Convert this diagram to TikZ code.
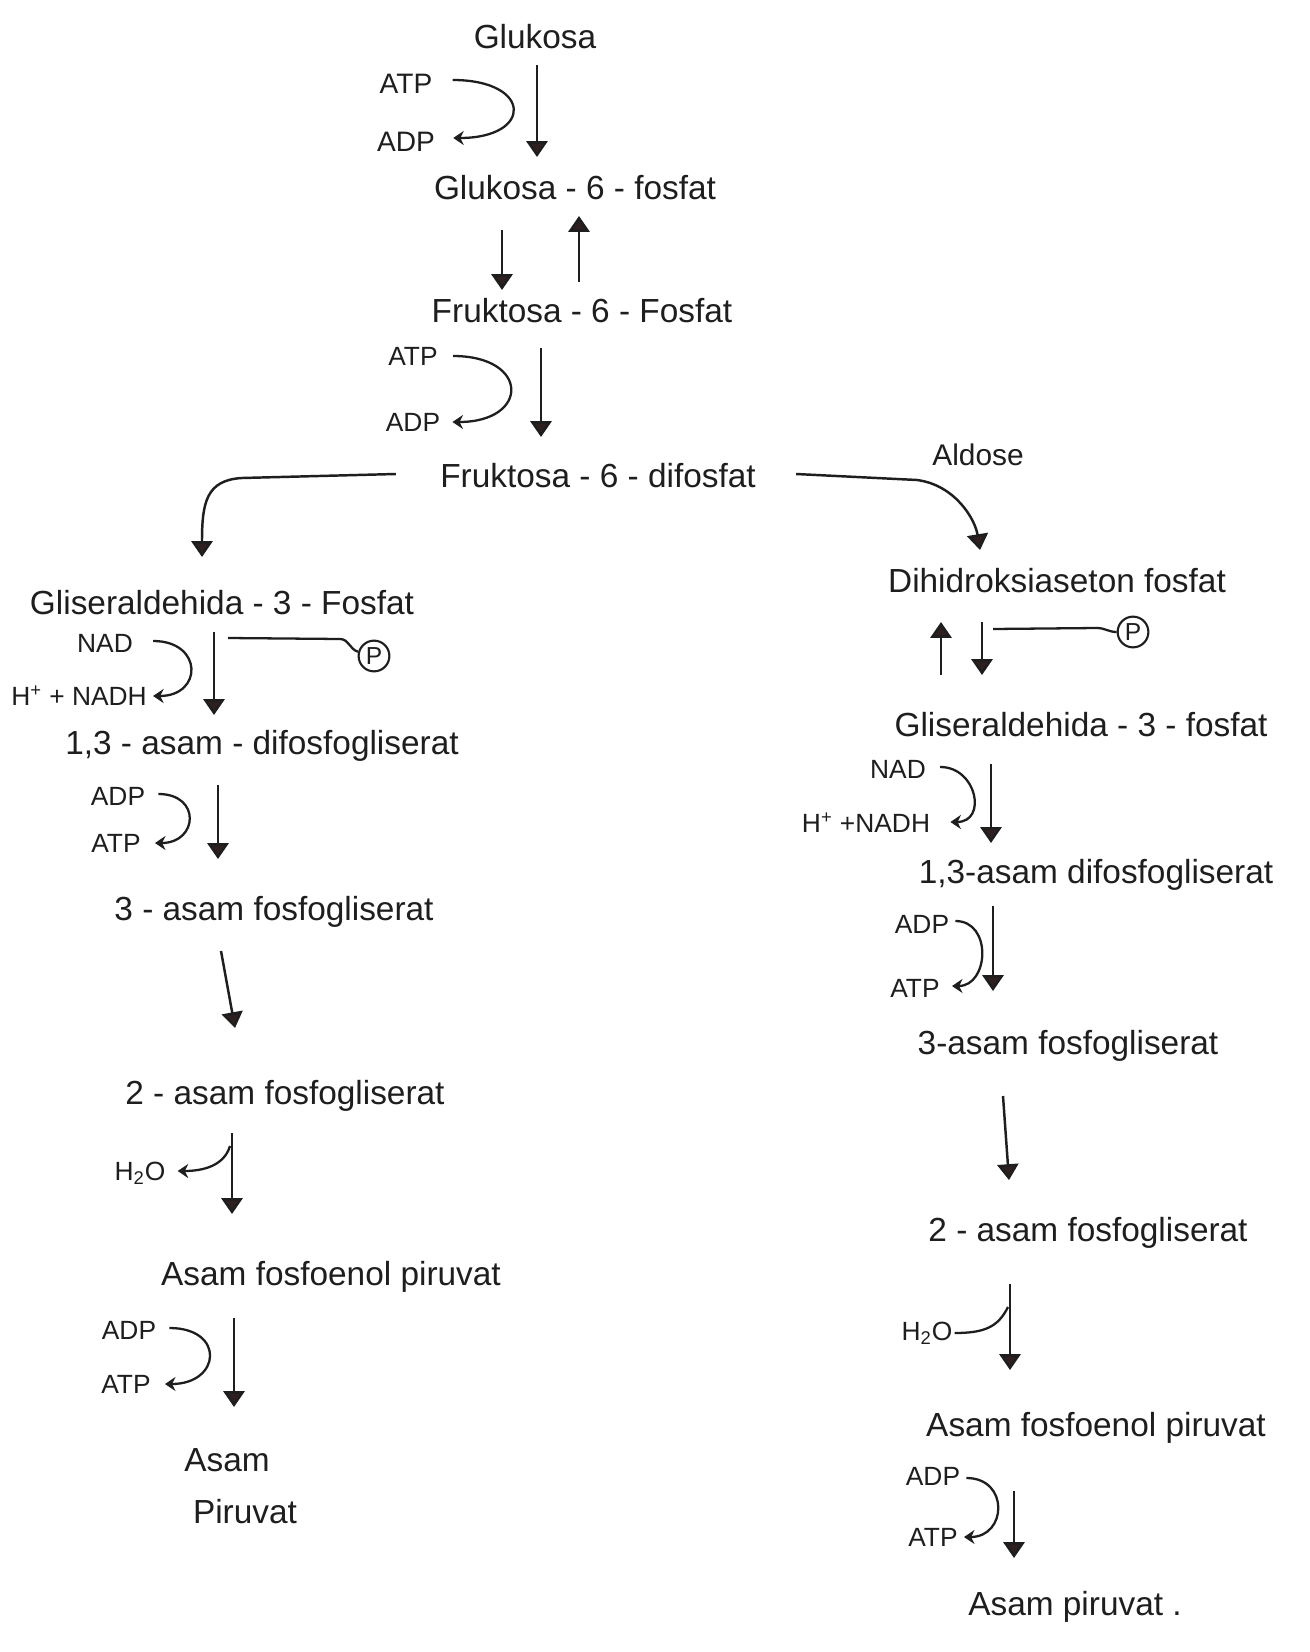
\documentclass[tikz,border=0pt]{standalone}
\usepackage{fontspec}
\setmainfont{Liberation Sans}
\usetikzlibrary{arrows.meta,calc}
\definecolor{ink}{HTML}{1E1E1E}
\definecolor{tipc}{HTML}{2E2020}
\begin{document}
\begin{tikzpicture}[x=0.02cm,y=-0.02cm,
  lbl/.style={inner sep=0pt, text=ink, font=\fontsize{19}{22}\selectfont},
  sml/.style={inner sep=0pt, text=ink, font=\fontsize{15}{18}\selectfont},
  arr/.style={draw=ink, line width=1.4pt, -{Triangle[width=12pt,length=9pt,fill=tipc]}},
  carr/.style={draw=ink, line width=1.3pt, -{Stealth[width=8pt,length=6pt]}},
  plain/.style={draw=ink, line width=1.3pt},
  pcirc/.style={circle, draw=ink, line width=1.2pt, inner sep=0pt, minimum size=17.5pt, text=ink, font=\fontsize{14}{16}\selectfont}]
\useasboundingbox[fill=white] (0,0) rectangle (1309,1652);

% ---------- top column ----------
\node[lbl] (glu) at (535,37) {Glukosa};
\node[sml,font=\fontsize{16}{18}\selectfont] (atp1) at (406,84) {ATP};
\node[sml,font=\fontsize{16}{18}\selectfont] (adp1) at (406,142) {ADP};
\node[lbl] (g6p) at (575,188) {Glukosa - 6 - fosfat};
\node[lbl] (f6p) at (582,311) {Fruktosa - 6 - Fosfat};
\node[sml] (atp2) at (413,356) {ATP};
\node[sml] (adp2) at (413,422) {ADP};
\node[lbl] (fbp) at (598,476) {Fruktosa - 6 - difosfat};
\node[sml,font=\fontsize{17}{20}\selectfont] (ald) at (978,455) {Aldose};

\draw[arr] ($(glu)+(2,28)$) -- ($(g6p)+(-38,-31)$);
\draw[carr] ($(atp1.east)+(20,-4)$) .. controls +(80,0) and +(80,0) .. ($(adp1.east)+(18,-4)$);
\draw[arr] ($(g6p)+(-73,42)$) -- ($(f6p)+(-80,-21)$);
\draw[arr] ($(f6p)+(-3,-29)$) -- ($(g6p)+(4,28)$);
\draw[arr] ($(f6p)+(-41,37)$) -- ($(fbp)+(-57,-39)$);
\draw[carr] ($(atp2.east)+(15,0)$) .. controls +(77,0) and +(77,0) .. ($(adp2.east)+(12,0)$);

% ---------- left column ----------
\node[lbl] (ga3l) at (222,603) {Gliseraldehida - 3 - Fosfat};
\node[sml] (nad1) at (105,643) {NAD};
\node[sml] (nadh1) at (79,696) {H\textsuperscript{+} + NADH};
\node[pcirc] (p1) at (374,656) {P};
\node[lbl] (bpg1) at (262,746) {1,3 - asam - difosfogliserat};
\node[sml] (adp1l) at (118,796) {ADP};
\node[sml] (atp1l) at (116,843) {ATP};
\node[lbl] (pg3l) at (274,912) {3 - asam fosfogliserat};
\node[lbl] (pg2l) at (285,1096) {2 - asam fosfogliserat};
\node[sml] (h2o1) at (140,1173) {H\textsubscript{2}O};
\node[lbl] (pepl) at (331,1277) {Asam fosfoenol piruvat};
\node[sml] (adp3l) at (129,1330) {ADP};
\node[sml] (atp3l) at (126,1384) {ATP};
\node[lbl] (pyra) at (227,1460) {Asam};
\node[lbl] (pyrb) at (245,1512) {Piruvat};

\draw[arr] ($(fbp.west)+(-44,-2)$) -- ($(ga3l)+(20,-125)$) .. controls ($(ga3l)+(-16,-123)$) and ($(ga3l)+(-20,-100)$) .. ($(ga3l)+(-20,-46)$);
\draw[arr] ($(ga3l)+(-8,29)$) -- ($(bpg1)+(-48,-31)$);
\draw[carr] ($(nad1.east)+(20,-2)$) .. controls +(50,0) and +(50,0) .. ($(nadh1.east)+(6,0)$);
\draw[plain] ($(ga3l)+(6,35)$) -- ($(ga3l)+(118,36)$) to[out=0,in=165] (p1.165);
\draw[arr] ($(bpg1)+(-44,39)$) -- ($(pg3l)+(-56,-53)$);
\draw[carr] ($(adp1l.east)+(13,-2)$) .. controls +(43,0) and +(43,0) .. ($(atp1l.east)+(14,0)$);
\draw[arr] ($(pg3l)+(-53,39)$) -- ($(pg2l)+(-50,-68)$);
\draw[arr] ($(pg2l)+(-53,37)$) -- ($(pepl)+(-99,-63)$);
\draw[carr] ($(pg2l)+(-55,50)$) .. controls +(-6,20) and +(25,0) .. ($(h2o1.east)+(12,-2)$);
\draw[arr] ($(pepl)+(-97,41)$) -- ($(pyra)+(7,-53)$);
\draw[carr] ($(adp3l.east)+(13,-2)$) .. controls +(56,0) and +(56,0) .. ($(atp3l.east)+(14,0)$);

% ---------- right column ----------
\node[lbl] (dhap) at (1057,581) {Dihidroksiaseton fosfat};
\node[pcirc] (p2) at (1133,632) {P};
\node[lbl] (ga3r) at (1081,725) {Gliseraldehida - 3 - fosfat};
\node[sml] (nad2) at (898,769) {NAD};
\node[sml] (nadh2) at (866,823) {H\textsuperscript{+} +NADH};
\node[lbl] (bpg2) at (1096,875) {1,3-asam difosfogliserat};
\node[sml] (adp2r) at (922,924) {ADP};
\node[sml] (atp2r) at (915,988) {ATP};
\node[lbl] (pg3r) at (1068,1046) {3-asam fosfogliserat};
\node[lbl] (pg2r) at (1088,1233) {2 - asam fosfogliserat};
\node[sml] (h2o2) at (927,1333) {H\textsubscript{2}O};
\node[lbl] (pepr) at (1096,1428) {Asam fosfoenol piruvat};
\node[sml] (adp3r) at (933,1476) {ADP};
\node[sml] (atp3r) at (933,1537) {ATP};
\node[lbl] (pyrr) at (1075,1607) {Asam piruvat .};

\draw[arr] ($(fbp.east)+(40,-2)$) -- ($(dhap)+(-140,-101)$) .. controls ($(dhap)+(-102,-96)$) and ($(dhap)+(-82,-62)$) .. ($(dhap)+(-77,-31)$);
\draw[arr] ($(ga3r)+(-140,-50)$) -- ($(dhap)+(-116,41)$);
\draw[arr] ($(dhap)+(-75,41)$) -- ($(ga3r)+(-99,-50)$);
\draw[plain] ($(dhap)+(-64,48)$) -- ($(dhap)+(40,47)$) to[out=0,in=180] (p2.west);
\draw[arr] ($(ga3r)+(-90,39)$) -- ($(bpg2)+(-105,-32)$);
\draw[carr] ($(nad2.east)+(14,-2)$) .. controls +(37,0) and +(37,0) .. ($(nadh2.east)+(20,-1)$);
\draw[arr] ($(bpg2)+(-103,31)$) -- ($(pg3r)+(-75,-55)$);
\draw[carr] ($(adp2r.east)+(6,-3)$) .. controls +(37,0) and +(37,0) .. ($(atp2r.east)+(12,-2)$);
\draw[arr] ($(pg3r)+(-65,50)$) -- ($(pg2r)+(-79,-53)$);
\draw[arr] ($(pg2r)+(-78,51)$) -- ($(pepr)+(-86,-58)$);
\draw[plain] ($(pg2r)+(-80,74)$) .. controls +(-10,20) and +(30,0) .. ($(h2o2.east)+(2,0)$);
\draw[arr] ($(pepr)+(-82,63)$) -- ($(pyrr)+(-61,-49)$);
\draw[carr] ($(adp3r.east)+(6,2)$) .. controls +(43,0) and +(43,0) .. ($(atp3r.east)+(6,0)$);
\end{tikzpicture}
\end{document}
